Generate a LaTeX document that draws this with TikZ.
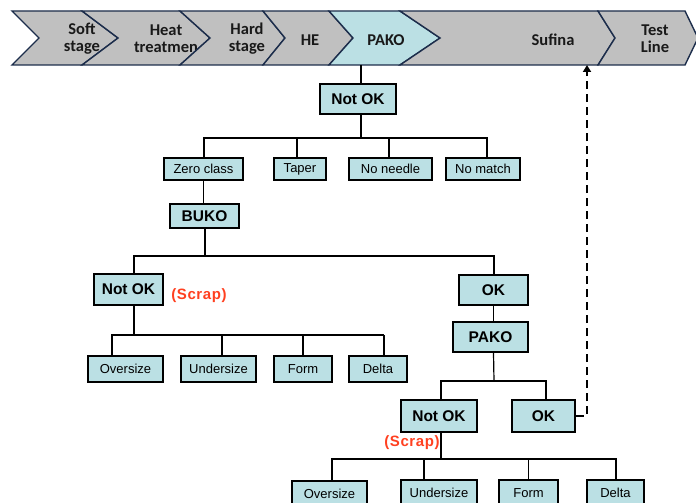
\documentclass[tikz,border=0pt]{standalone}
\usepackage{fontspec}
\setmainfont{Liberation Sans}
\newfontfamily\chevfont{Carlito}
\usetikzlibrary{arrows.meta}
\definecolor{boxblue}{RGB}{187,224,228}
\definecolor{chevgray}{RGB}{192,192,192}
\definecolor{chevline}{RGB}{28,45,75}
\definecolor{scrapred}{RGB}{255,64,32}
\tikzset{
 box/.style={draw=black, line width=1.9pt, fill=boxblue, inner sep=0pt, font=\fontsize{13}{15}\selectfont},
 bigbox/.style={box, font=\fontsize{15.5}{17}\selectfont\bfseries},
 chev/.style={fill=chevgray, draw=chevline, line width=1.4pt, line join=miter},
 chevblue/.style={chev, fill=boxblue},
 chevtext/.style={font=\chevfont\bfseries\fontsize{16.5}{17}\selectfont, align=center, text=black!90, inner sep=0pt},
 link/.style={line width=2pt},
 thinlink/.style={line width=1.2pt},
 scrap/.style={text=scrapred, font=\fontsize{15}{17}\selectfont\bfseries\addfontfeature{LetterSpace=4}, inner sep=0pt},
}
\begin{document}
\begin{tikzpicture}[x=1pt,y=-1pt]
\useasboundingbox (0,0) rectangle (696,503);
\clip (0,0) rectangle (696,503);
\fill[white] (0,0) rectangle (696,503);
% process band
\draw[chev] (12,11) -- (82,11) -- (118,38) -- (82,65) -- (12,65) -- (39,38) -- cycle;
\node[chevtext] (soft) at (82,39) {Soft\\stage};
\draw[chev] (82,11) -- (180,11) -- (210,38) -- (180,65) -- (82,65) -- (118,38) -- cycle;
\node[chevtext] (heat) at (166,39) {Heat\\treatmen};
\draw[chev] (180,11) -- (263,11) -- (285,38) -- (263,65) -- (180,65) -- (210,38) -- cycle;
\node[chevtext] (hard) at (247,39) {Hard\\stage};
\draw[chev] (263,11) -- (329,11) -- (353,38) -- (329,65) -- (263,65) -- (285,38) -- cycle;
\node[chevtext] (he) at (310,40) {HE};
\draw[chevblue] (329,11) -- (400,11) -- (440,38) -- (400,65) -- (329,65) -- (353,38) -- cycle;
\node[chevtext] (pakoc) at (386,40) {PAKO};
\draw[chev] (400,11) -- (598,11) -- (615,38) -- (598,65) -- (400,65) -- (440,38) -- cycle;
\node[chevtext] (sufina) at (553,40) {Sufina};
\draw[chev] (598,11) -- (685,11) -- (698,38) -- (685,65) -- (598,65) -- (615,38) -- cycle;
\node[chevtext] (test) at (655,39) {Test\\Line};
\coordinate (pakoB) at (361,65);
\coordinate (sufB) at (587,65);
% tree nodes
\node[bigbox, minimum width=76pt, minimum height=30pt] (nok1) at (358,99) {Not OK};
\node[box, minimum width=79pt, minimum height=22pt] (zero) at (203.5,169) {Zero class};
\node[box, minimum width=52pt, minimum height=22pt] (taper) at (300,169) {Taper};
\node[box, minimum width=83pt, minimum height=22pt] (noneedle) at (390.5,169) {No needle};
\node[box, minimum width=74pt, minimum height=22pt] (nomatch) at (483,169) {No match};
\node[bigbox, minimum width=69pt, minimum height=24pt] (buko) at (204.5,216) {BUKO};
\node[bigbox, minimum width=69pt, minimum height=31pt] (nok2) at (128.5,289.5) {Not OK};
\node[scrap] (scrap1) at (199,296) {(Scrap)};
\node[box, minimum width=75pt, minimum height=26pt] (over1) at (125.5,369) {Oversize};
\node[box, minimum width=75pt, minimum height=26pt] (under1) at (218.5,369) {Undersize};
\node[box, minimum width=58pt, minimum height=26pt] (form1) at (303,369) {Form};
\node[box, minimum width=58pt, minimum height=26pt] (delta1) at (378,369) {Delta};
\node[bigbox, minimum width=69pt, minimum height=30pt] (ok1) at (493.5,290) {OK};
\node[bigbox, minimum width=75pt, minimum height=30pt] (pako) at (490.5,337) {PAKO};
\node[bigbox, minimum width=76pt, minimum height=32pt] (nok3) at (439,416) {Not OK};
\node[bigbox, minimum width=63pt, minimum height=32pt] (ok2) at (543.5,416) {OK};
\node[scrap] (scrap2) at (412,443) {(Scrap)};
\node[box, minimum width=75pt, minimum height=26pt] (over2) at (329.5,494) {Oversize};
\node[box, minimum width=76pt, minimum height=26pt] (under2) at (439,493) {Undersize};
\node[box, minimum width=59pt, minimum height=26pt] (form2) at (528.5,493) {Form};
\node[box, minimum width=57pt, minimum height=26pt] (delta2) at (615.5,493) {Delta};
% bus coordinates
\coordinate (bus1) at (361,138);
\coordinate (bus2) at (205,256);
\coordinate (bus3) at (134,335);
\coordinate (bus4) at (494,381);
\coordinate (bus5) at (441,459);
% connectors level 1
\draw[link] (pakoB) -- ([xshift=3pt]nok1.north);
\draw[link] ([xshift=3pt]nok1.south) -- (bus1);
\draw[link] (zero.north) |- ([xshift=4pt]nomatch.north |- bus1) -- ([xshift=4pt]nomatch.north);
\draw[link] ([xshift=-3pt]taper.north) -- ([xshift=-3pt]taper.north |- bus1);
\draw[thinlink] ([xshift=-1.5pt]noneedle.north) -- ([xshift=-1.5pt]noneedle.north |- bus1);
% BUKO
\draw[thinlink] (zero.south) -- (zero.south |- buko.north);
\draw[link] (buko.south) -- (buko.south |- bus2);
\draw[link] ([xshift=5.5pt]nok2.north) |- (ok1.north |- bus2) -- (ok1.north);
% left Not OK
\draw[link] ([xshift=5.5pt]nok2.south) -- (bus3);
\draw[link] ([xshift=-13.5pt]over1.north) |- ([xshift=6pt]delta1.north |- bus3);
\draw[thinlink] ([xshift=6pt]delta1.north |- bus3) -- ([xshift=6pt]delta1.north);
\draw[thinlink] ([xshift=3.5pt]under1.north) -- ([xshift=3.5pt]under1.north |- bus3);
\draw[link] (form1.north) -- (form1.north |- bus3);
% right branch
\draw[thinlink] (ok1.south) -- (ok1.south |- pako.north);
\draw[thinlink] (ok1.south |- pako.south) -- (bus4);
\draw[link] ([xshift=2pt]nok3.north) |- ([xshift=2.5pt]ok2.north |- bus4) -- ([xshift=2.5pt]ok2.north);
% bottom Not OK
\draw[link] ([xshift=2pt]nok3.south) -- (bus5);
\draw[link] ([xshift=2.5pt]over2.north) |- (delta2.north |- bus5) -- (delta2.north);
\draw[thinlink] ([xshift=-15pt]under2.north) -- ([xshift=-15pt]under2.north |- bus5);
\draw[thinlink] (form2.north) -- (form2.north |- bus5);
% feedback to Sufina
\draw[line width=2.4pt, dash pattern=on 8pt off 5pt, -{Triangle[length=7pt,width=8pt]}] (ok2.east) -| (sufB);
\end{tikzpicture}
\end{document}
